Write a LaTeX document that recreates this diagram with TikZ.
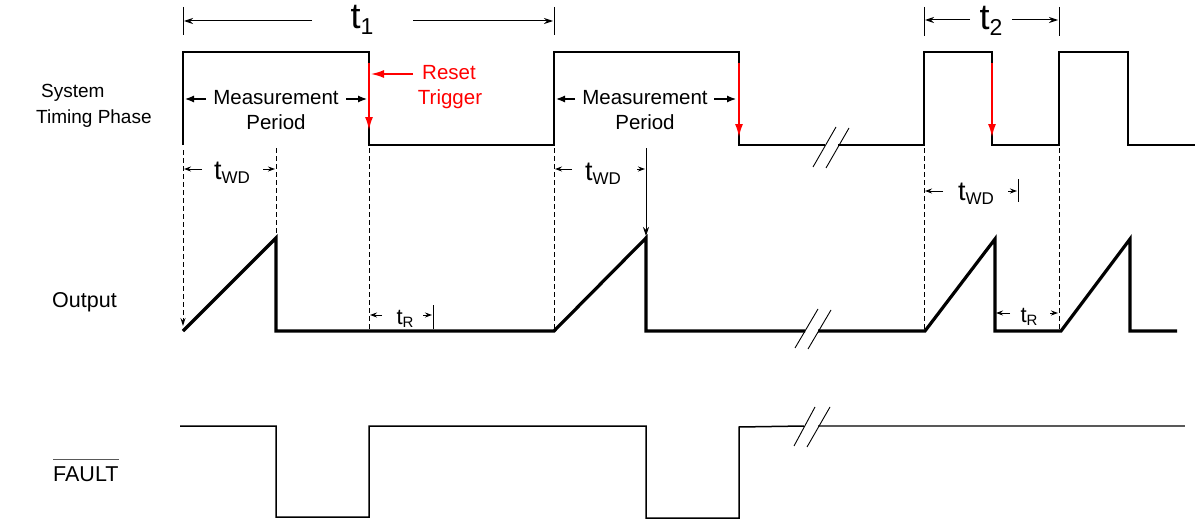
\documentclass[tikz,border=0pt]{standalone}
\usepackage{fontspec}
\setmainfont{Liberation Sans}
\usetikzlibrary{arrows.meta}
\newcommand\tlab[4]{{\fontsize{#1}{#1}\selectfont t}{\fontsize{#2}{#2}\selectfont\raisebox{-#3}{#4}}}
\begin{document}
\begin{tikzpicture}[x=1pt,y=-1pt,
  sig/.style={line width=2pt},
  outsig/.style={line width=3.2pt},
  fsig/.style={line width=1.5pt},
  brk/.style={line width=0.9pt},
  guide/.style={line width=0.9pt, dash pattern=on 5pt off 3pt},
  dimar/.style={line width=0.9pt, -{Stealth[length=7pt,width=5pt]}},
  tick/.style={line width=0.9pt},
  bigar/.style={line width=1pt, -{Stealth[length=9pt,width=6pt]}},
  mar/.style={line width=1.2pt, -{Latex[length=9pt,width=7pt]}},
  redar/.style={red, line width=1.6pt, -{Latex[length=13pt,width=8pt]}},
  lbl/.style={font=\fontsize{20.5}{24}\selectfont, inner sep=0pt},
  side/.style={font=\fontsize{21.5}{24}\selectfont, inner sep=0pt},
  sidesm/.style={font=\fontsize{19}{24}\selectfont, inner sep=0pt},
]
\useasboundingbox (0,0) rectangle (1195,519);

% left labels
\node[sidesm, anchor=base west] (sys1) at (41,98) {System};
\node[sidesm, anchor=base west] (sys2) at (36,123) {Timing Phase};
\node[side, anchor=base west] (outl) at (52,307) {Output};
\node[side, anchor=base west] (fltl) at (53,481) {FAULT};
\draw[line width=1pt, black!65] (fltl.west |- 0,459) -- (fltl.east |- 0,459);

% system timing phase
\draw[sig] (183,145) -- (183,52) -- (369,52) -- (369,145) -- (554,145) -- (554,52) -- (739,52) -- (739,145) -- (825,145);
\draw[sig] (838,145) -- (924,145) -- (924,52) -- (992,52) -- (992,145) -- (1059,145) -- (1059,52) -- (1128,52) -- (1128,145) -- (1195,145);
\draw[brk] (813,167) -- (836,127);
\draw[brk] (826,168) -- (849,128);

% output
\draw[outsig] (183,331) -- (276,238) -- (276,331) -- (554,331) -- (646,238) -- (646,331) -- (805,331);
\draw[outsig] (818,331) -- (925,331) -- (995,239) -- (995,331) -- (1061,331) -- (1130,239) -- (1130,331) -- (1177,331);
\draw[brk] (795,348) -- (818,309);
\draw[brk] (808,349) -- (831,310);

% fault
\draw[fsig] (180,426) -- (276,426) -- (276,517) -- (369,517) -- (369,426) -- (646,426) -- (646,518) -- (739,518) -- (739,427) -- (804,426);
\draw[line width=1.3pt, black!65] (818,426) -- (1185,426);
\draw[brk] (794,446) -- (815,407);
\draw[brk] (807,447) -- (830,407);

% guides
\draw[guide, -{Stealth[length=8pt,width=5pt]}] (183,150) -- (183,326);
\draw[guide] (276,148) -- (276,238);
\draw[guide] (369,148) -- (369,331);
\draw[guide] (554,148) -- (554,331);
\draw[line width=0.9pt, -{Stealth[length=9pt,width=6pt]}] (646,148) -- (646,236);
\draw[guide] (924,148) -- (924,331);
\draw[guide] (1059,148) -- (1059,331);

% t1
\draw[tick] (183,7) -- (183,35);
\draw[tick] (554,7) -- (554,35);
\node[inner sep=0pt, anchor=base] (t1) at (362,29) {\tlab{36}{23}{6pt}{1}};
\draw[bigar] (312,21) -- (184,21);
\draw[bigar] (413,21) -- (553,21);

% t2
\draw[tick] (924,7) -- (924,36);
\draw[tick] (1059,7) -- (1059,36);
\node[inner sep=0pt, anchor=base] (t2) at (991,30) {\tlab{36}{23}{6pt}{2}};
\draw[bigar] (970,20) -- (925,20);
\draw[bigar] (1012,20) -- (1058,20);

% tWD labels
\node[inner sep=0pt, anchor=base] (twd1) at (232,179) {\tlab{27}{17}{4pt}{WD}};
\draw[dimar] (202,169) -- (184,169);
\draw[dimar] (263,169) -- (275,169);
\node[inner sep=0pt, anchor=base] (twd2) at (603,180) {\tlab{27}{17}{4pt}{WD}};
\draw[dimar] (572,169) -- (555,169);
\draw[dimar] (637,169) -- (645,169);
\node[inner sep=0pt, anchor=base] (twd3) at (976,200) {\tlab{27}{17}{4pt}{WD}};
\draw[dimar] (943,191) -- (925,191);
\draw[dimar] (1008,191) -- (1017,191);
\draw[tick] (1018,179) -- (1018,202);

% tR labels
\node[inner sep=0pt, anchor=base] (tr1) at (405,324) {\tlab{22}{15}{3pt}{R}};
\draw[dimar] (382,315) -- (370,315);
\draw[dimar] (423,315) -- (432,315);
\draw[tick] (433,305) -- (433,329);
\node[inner sep=0pt, anchor=base] (tr2) at (1029,322) {\tlab{22}{15}{3pt}{R}};
\draw[dimar] (1010,313) -- (996,313);
\draw[dimar] (1050,313) -- (1058,313);

% measurement periods
\node[lbl, anchor=base] (mp1a) at (276,104) {Measurement};
\node[lbl, anchor=base] (mp1b) at (276,129) {Period};
\draw[mar] (206,99) -- (185,99);
\draw[mar] (346,99) -- (367,99);
\node[lbl, anchor=base] (mp2a) at (645,104) {Measurement};
\node[lbl, anchor=base] (mp2b) at (645,129) {Period};
\draw[mar] (575,99) -- (556,99);
\draw[mar] (714,99) -- (736,99);

% reset trigger
\node[lbl, anchor=base, text=red] (rs1) at (449,80) {Reset};
\node[lbl, anchor=base, text=red] (rs2) at (450,105) {Trigger};
\draw[redar] (413,74) -- (371,74);
\draw[redar] (369,63) -- (369,130);
\draw[redar] (739,63) -- (739,137);
\draw[redar] (992,63) -- (992,137);
\end{tikzpicture}
\end{document}
